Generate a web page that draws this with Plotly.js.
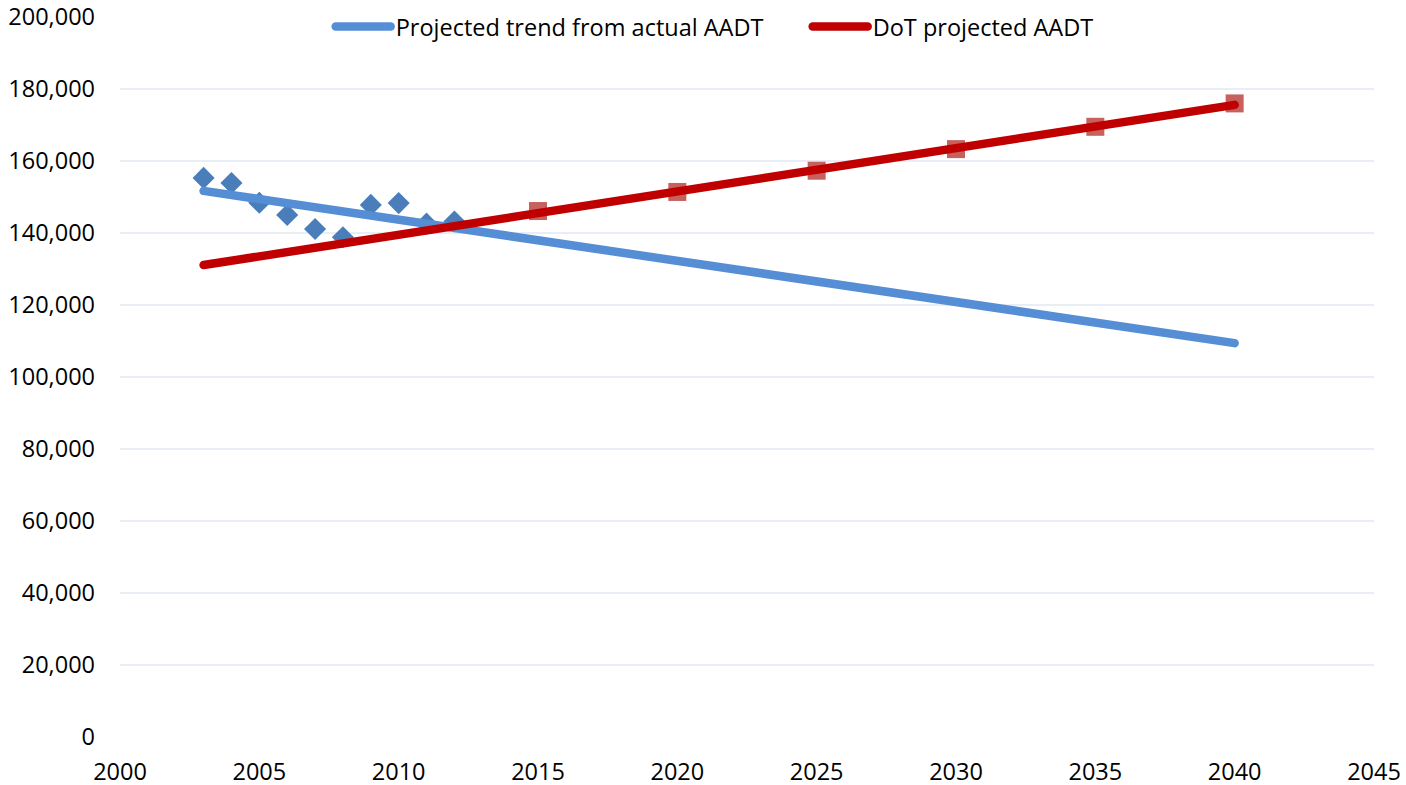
<!DOCTYPE html>
<html>
<head>
<meta charset="utf-8">
<script src="https://cdn.plot.ly/plotly-3.0.1.min.js"></script>
<style>
  html, body { margin: 0; padding: 0; background: #fff; }
  #myPlot { width: 1406px; height: 785px; }
  /* rounded ends like the original */
  #myPlot .js-line { stroke-linecap: round; }
</style>
</head>
<body>
<div id="myPlot"></div>
<script>
// actual AADT counts
var actualYears = [2003, 2004, 2005, 2006, 2007, 2008, 2009, 2010, 2011, 2012];
var actualAADT = [155300, 153900, 148400, 145000, 141100, 138800, 147800, 148300, 142600, 143200];

// trend from the actual counts (end points)
var trendYears = [2003, 2040];
var trendAADT = [151700, 109400];

// DoT projections
var dotYears = [2015, 2020, 2025, 2030, 2035, 2040];
var dotAADT = [146100, 151400, 157300, 163300, 169500, 176000];

// DoT projected line
var dotLineYears = [2003, 2040];
var dotLineAADT = [131100, 175600];

var xTicks = [2000, 2005, 2010, 2015, 2020, 2025, 2030, 2035, 2040, 2045];
var yTicks = [0, 20000, 40000, 60000, 80000, 100000, 120000, 140000, 160000, 180000, 200000];

var fontFam = "'Open Sans', 'Liberation Sans', sans-serif";

var data = [
  {
    x: actualYears, y: actualAADT,
    mode: "markers", showlegend: false,
    marker: {symbol: "diamond", size: 17, color: "#4A7EBB"}
  },
  {
    x: dotYears, y: dotAADT,
    mode: "markers", showlegend: false,
    marker: {symbol: "square", size: 18, color: "rgba(192,80,77,0.9)"}
  },
  {
    x: trendYears, y: trendAADT,
    mode: "lines", name: "Projected trend from actual AADT",
    line: {color: "#558ED5", width: 8.5}
  },
  {
    x: dotLineYears, y: dotLineAADT,
    mode: "lines", name: "DoT projected AADT",
    line: {color: "#C00000", width: 8.5}
  }
];

var layout = {
  width: 1406, height: 785,
  margin: {l: 120, r: 32, t: 17, b: 48, autoexpand: false},
  paper_bgcolor: "#fff", plot_bgcolor: "#fff",
  font: {family: fontFam, size: 23.5, color: "#000"},
  showlegend: true,
  legend: {
    orientation: "h", x: 0.168, xanchor: "left", y: 1.017, yanchor: "top",
    bgcolor: "rgba(0,0,0,0)", font: {size: 23.5, color: "#000"},
    itemwidth: 55, entrywidth: 407, entrywidthmode: "pixels", tracegroupgap: 0
  },
  xaxis: {
    range: [2000, 2045], tickvals: xTicks, ticktext: xTicks.map(String),
    showgrid: false, zeroline: false, showline: false, ticks: "",
    ticklabelstandoff: 18
  },
  yaxis: {
    range: [0, 200000], tickvals: yTicks, tickformat: ",d",
    showgrid: true, gridcolor: "#E9EEF6", gridwidth: 2,
    zeroline: false, showline: false, ticks: "",
    ticklabelstandoff: 24
  }
};

Plotly.newPlot("myPlot", data, layout, {displayModeBar: false, staticPlot: true});
</script>
</body>
</html>
